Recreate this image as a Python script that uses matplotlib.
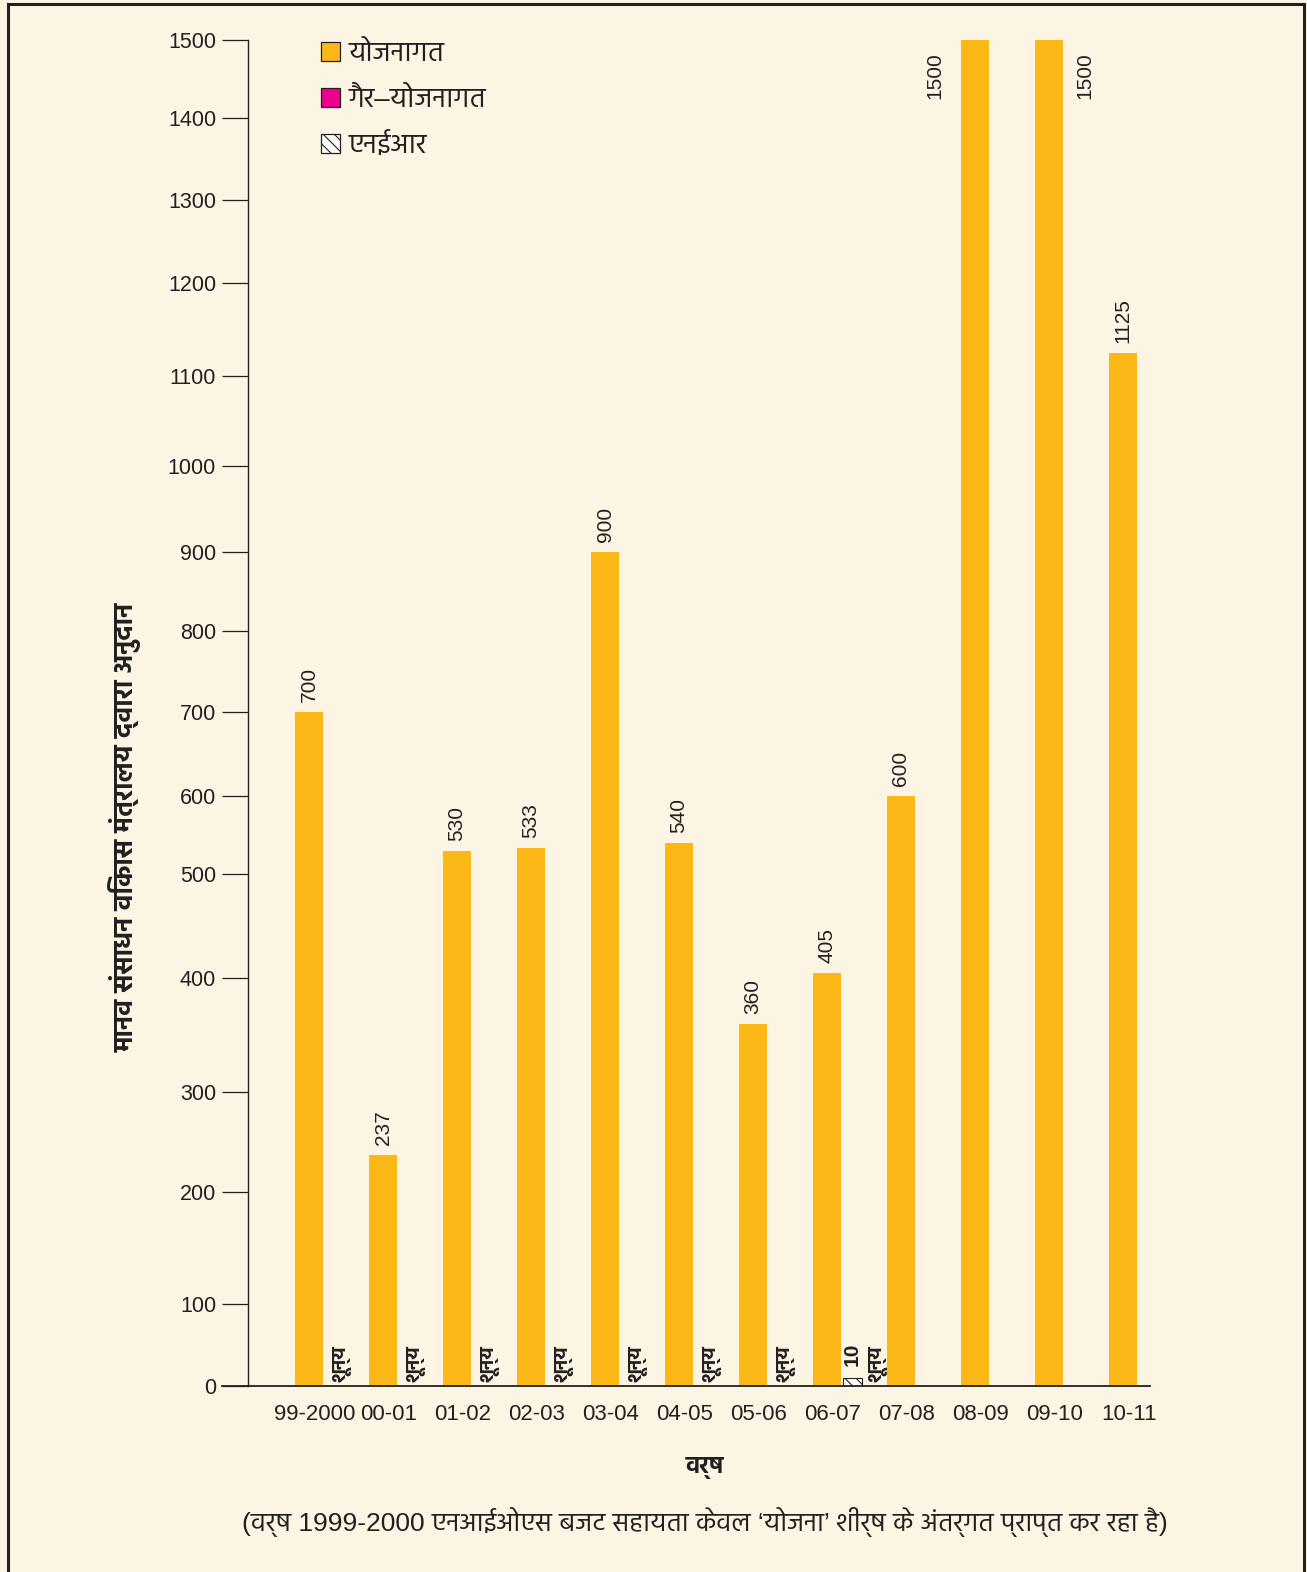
import numpy as np
import matplotlib
matplotlib.use('Agg')
import matplotlib.pyplot as plt
from matplotlib import font_manager
from matplotlib.ft2font import FT2Font
from matplotlib.patches import Patch, Rectangle

# Data
years = ['99-2000', '00-01', '01-02', '02-03', '03-04', '04-05',
         '05-06', '06-07', '07-08', '08-09', '09-10', '10-11']
yojanagat = [700, 237, 530, 533, 900, 540, 360, 405, 600, 1500, 1500, 1125]
gair_yojanagat = [0, 0, 0, 0, 0, 0, 0, 0, None, None, None, None]
ner = [None, None, None, None, None, None, None, 10, None, None, None, None]

# y scale is not linear in the original: tick value -> pixel row
y_ticks = [0, 100, 200, 300, 400, 500, 600, 700, 800, 900, 1000, 1100, 1200, 1300, 1400, 1500]
y_tick_pix = [1386, 1304, 1192, 1092, 978, 874, 796, 712, 631, 552, 466, 376, 283, 200, 118, 40]

legend_labels = ['योजनागत', 'गैर–योजनागत', 'एनईआर']
zero_text = 'शून्य'
y_label = 'मानव संसाधन विकास मंत्रालय द्वारा अनुदान'
x_label = 'वर्ष'
footnote = '(वर्ष 1999-2000 एनआईओएस बजट सहायता केवल ‘योजना’ शीर्ष के अंतर्गत प्राप्त कर रहा है)'

bg = '#fdf5e4'
orange = '#fbb817'
magenta = '#ec008c'
ink = '#231f20'


# installed fonts that have Devanagari glyphs
def deva_fonts():
    found = set()
    for fe in font_manager.fontManager.ttflist:
        try:
            if 0x0915 in FT2Font(fe.fname).get_charmap():
                found.add(fe.name)
        except Exception:
            pass
    return found


names = deva_fonts()
deva = None
for n in ['Hind', 'Mukta', 'Noto Sans Devanagari', 'Poppins', 'FreeSans', 'Akshar']:
    if n in names:
        deva = n
        break
num_font = ['Liberation Sans', 'DejaVu Sans']
hin_font = ['Liberation Sans'] + ([deva] if deva else []) + ['DejaVu Sans']
plt.rcParams['font.family'] = num_font
plt.rcParams['hatch.linewidth'] = 0.8

pix = np.array(y_tick_pix, dtype=float)
norm = (pix[0] - pix) / (pix[0] - pix[-1])
vals = np.array(y_ticks, dtype=float)


def fwd(v):
    return np.interp(v, vals, norm)


def inv(p):
    return np.interp(p, norm, vals)


fig = plt.figure(figsize=(13.07, 15.72), dpi=100, facecolor=bg)
ax = fig.add_axes([222 / 1307, 1 - 1386 / 1572, 928 / 1307, 1346 / 1572])
ax.set_facecolor(bg)
ax.set_yscale('function', functions=(fwd, inv))
ax.set_ylim(0, 1500)
ax.set_xlim(-1.176, 11.365)

x = np.arange(len(years))
ax.bar(x, yojanagat, width=0.37, color=orange, zorder=2)

for i, v in enumerate(yojanagat):
    if v >= 1500:
        dx = -40 if i == 9 else 36
        ax.annotate(str(v), (i, v), xytext=(dx, -36), textcoords='offset pixels',
                    rotation=90, ha='center', va='center', fontsize=15, color=ink)
    else:
        ax.annotate(str(v), (i, v), xytext=(0, 10), textcoords='offset pixels',
                    rotation=90, ha='center', va='bottom', fontsize=15, color=ink)

for i, v in enumerate(gair_yojanagat):
    if v is None:
        continue
    off = 0.69 if ner[i] is not None else 0.45
    ax.annotate(zero_text, (i + off, 0), xytext=(0, 4), textcoords='offset pixels',
                rotation=90, ha='center', va='bottom', fontsize=14,
                fontweight='bold', color=ink, family=hin_font)

for i, v in enumerate(ner):
    if v is None:
        continue
    ax.bar(i + 0.34, v, width=0.26, color='white', edgecolor=ink, hatch='\\\\\\',
           linewidth=0.8, zorder=2)
    ax.annotate(str(v), (i + 0.34, v), xytext=(0, 12), textcoords='offset pixels',
                rotation=90, ha='center', va='bottom', fontsize=15,
                fontweight='bold', color=ink)

# axes styling
for s in ['top', 'right']:
    ax.spines[s].set_visible(False)
ax.spines['left'].set_position(('axes', 26 / 928))
ax.spines['left'].set_color(ink)
ax.spines['bottom'].set_color(ink)
ax.spines['left'].set_linewidth(1.0)
ax.spines['bottom'].set_linewidth(1.3)
ax.set_yticks(y_ticks)
ax.set_yticklabels([str(t) for t in y_ticks])
ax.tick_params(axis='y', length=19, width=0.9, color=ink, labelsize=15.5,
               labelcolor=ink, pad=4)
ax.set_xticks(x + 0.08)
ax.set_xticklabels(years)
ax.tick_params(axis='x', length=0, labelsize=16, labelcolor=ink, pad=13)

ax.set_ylabel(y_label, family=hin_font, fontsize=19, fontweight='bold', color=ink)
ax.yaxis.set_label_coords(-0.086, 0.415)
ax.set_xlabel(x_label, family=hin_font, fontsize=17, fontweight='bold', color=ink)
ax.xaxis.set_label_coords((705 - 222) / 928, -0.052)

fig.text(705 / 1307, 1 - 1522 / 1572, footnote, family=hin_font, fontsize=19,
         color=ink, ha='center', va='center')

handles = [Patch(facecolor=orange, edgecolor=ink, linewidth=0.9),
           Patch(facecolor=magenta, edgecolor=ink, linewidth=0.9),
           Patch(facecolor='white', edgecolor=ink, hatch='\\\\\\', linewidth=0.9)]
leg = ax.legend(handles, legend_labels, loc='upper left',
                bbox_to_anchor=(321 / 1307, 1 - 41 / 1572),
                bbox_transform=fig.transFigure,
                frameon=False, prop={'family': hin_font, 'size': 20},
                handlelength=0.7, handleheight=0.7, handletextpad=0.3,
                labelspacing=0.72, borderaxespad=0, borderpad=0)
for t in leg.get_texts():
    t.set_color(ink)

# outer frame
fig.patches.append(Rectangle((8 / 1307, -0.01), (1304 - 8) / 1307, 1.01 - 4 / 1572,
                             transform=fig.transFigure, fill=False,
                             edgecolor=ink, linewidth=2.2))

fig.savefig('out.png', dpi=100, facecolor=bg)
